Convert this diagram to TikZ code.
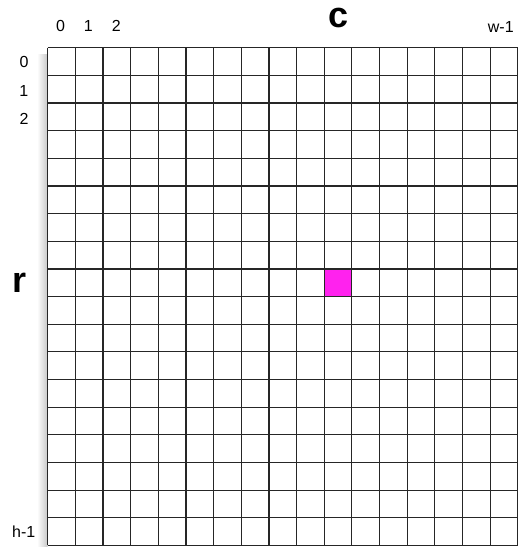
\documentclass[tikz,border=0pt]{standalone}
\usepackage{fontspec}
\setmainfont{Liberation Sans}
\usetikzlibrary{positioning}
\definecolor{cellpink}{HTML}{FF22EE}

\begin{document}
\begin{tikzpicture}[x=1pt, y=-1pt,
  idx/.style={font=\fontsize{16}{16}\selectfont, inner sep=0pt},
  axis/.style={font=\fontsize{36}{36}\bfseries\selectfont, inner sep=0pt},
  gridline/.style={line width=1.2pt, black!85}
]
\def\cell{27.65}
\def\ox{47.7}
\def\oy{47.7}
\useasboundingbox (0,0) rectangle (518,547);

% soft shadow on the left side
\shade[left color=white, right color=black!22] (37,54) rectangle (\ox,547);

% the highlighted cell
\fill[cellpink] ({\ox+10*\cell},{\oy+8*\cell}) rectangle ++(\cell,\cell);

% grid
\foreach \i in {0,...,17}
  \draw[gridline] ({\ox+\i*\cell},\oy) -- ({\ox+\i*\cell},{\oy+18*\cell});
\foreach \j in {0,...,18}
  \draw[gridline] (\ox,{\oy+\j*\cell}) -- ({\ox+17*\cell},{\oy+\j*\cell});

% column labels
\node[idx] (col0) at (60.5,26) {0};
\node[idx] (col1) at (88.3,26) {1};
\node[idx] (col2) at (116.3,26) {2};
\node[axis] (colc) at (339,17.5) {c};
\node[idx] (colw) at (500.8,26.5) {w-1};

% row labels
\node[idx] (row0) at (24,61.7) {0};
\node[idx] (row1) at (23.7,90.5) {1};
\node[idx] (row2) at (24,118.8) {2};
\node[axis] (rowr) at (19.7,282.5) {r};
\node[idx] (rowh) at (23.8,532) {h-1};
\end{tikzpicture}
\end{document}
